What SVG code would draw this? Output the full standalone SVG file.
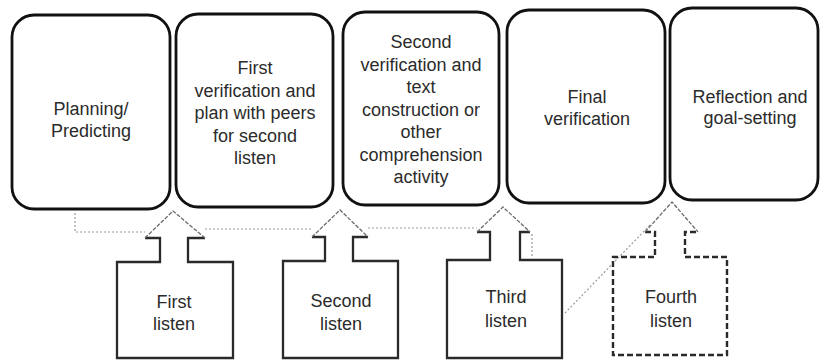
<svg xmlns="http://www.w3.org/2000/svg" width="820" height="360" viewBox="0 0 820 360">
  <style>
    .stage { fill: #ffffff; stroke: #111111; stroke-width: 2.8; }
    .lbl { font-family: "Liberation Sans", Arial, sans-serif; font-size: 18px; fill: #2b2b2b; text-anchor: middle; }
    .body { fill: none; stroke: #2a2a2a; stroke-width: 2.3; stroke-linejoin: miter; }
    .head { fill: none; stroke: #6a6a6a; stroke-width: 1.3; stroke-dasharray: 4 1.5; }
    .dashbody { fill: none; stroke: #2a2a2a; stroke-width: 2.4; stroke-dasharray: 6 3; }
    .faint { fill: none; stroke: #9a9a9a; stroke-width: 1.2; stroke-dasharray: 2 2; }
  </style>

  <rect width="820" height="360" fill="#ffffff"/>

  <!-- faint dotted guide lines -->
  <g id="connectors">
    <polyline class="faint" points="75,213 75,232 145,232"/>
    <line class="faint" x1="205" y1="229" x2="312" y2="229"/>
    <line class="faint" x1="368" y1="228" x2="477" y2="228"/>
    <line class="faint" x1="532" y1="234" x2="532" y2="258"/>
    <line class="faint" x1="565" y1="313" x2="650" y2="225"/>
  </g>

  <!-- stage boxes -->
  <g id="planning">
    <rect class="stage" x="12" y="15" width="158" height="194" rx="22"/>
    <text class="lbl" x="91" y="115">Planning/</text>
    <text class="lbl" x="91" y="137">Predicting</text>
  </g>

  <g id="first-verification">
    <rect class="stage" x="176" y="14" width="157" height="193" rx="22"/>
    <text class="lbl" x="255" y="74">First</text>
    <text class="lbl" x="255" y="96.5">verification and</text>
    <text class="lbl" x="255" y="119">plan with peers</text>
    <text class="lbl" x="255" y="141.5">for second</text>
    <text class="lbl" x="255" y="164">listen</text>
  </g>

  <g id="second-verification">
    <rect class="stage" x="343" y="12" width="156" height="193" rx="22"/>
    <text class="lbl" x="421" y="48">Second</text>
    <text class="lbl" x="421" y="70.5">verification and</text>
    <text class="lbl" x="421" y="93">text</text>
    <text class="lbl" x="421" y="115.5">construction or</text>
    <text class="lbl" x="421" y="138">other</text>
    <text class="lbl" x="421" y="160.5">comprehension</text>
    <text class="lbl" x="421" y="183">activity</text>
  </g>

  <g id="final-verification">
    <rect class="stage" x="507" y="10" width="158" height="193" rx="22"/>
    <text class="lbl" x="587" y="103">Final</text>
    <text class="lbl" x="587" y="125">verification</text>
  </g>

  <g id="reflection">
    <rect class="stage" x="670" y="8" width="148" height="192" rx="22"/>
    <text class="lbl" x="750" y="103">Reflection and</text>
    <text class="lbl" x="750" y="124">goal-setting</text>
  </g>

  <!-- listening arrows -->
  <g id="first-listen">
    <path class="body" d="M145,238 H160 V262 H117 V358 H233 V262 H188 V238 H205"/>
    <polyline class="head" points="145,238 173,211 205,238"/>
    <text class="lbl" x="174" y="308">First</text>
    <text class="lbl" x="174" y="330">listen</text>
  </g>

  <g id="second-listen">
    <path class="body" d="M312,237 H325 V261 H283 V358 H398 V261 H353 V237 H368"/>
    <polyline class="head" points="312,237 340,210 368,237"/>
    <text class="lbl" x="341" y="307">Second</text>
    <text class="lbl" x="341" y="330">listen</text>
  </g>

  <g id="third-listen">
    <path class="body" d="M477,232 H490 V260 H447 V358 H562 V260 H520 V232 H530"/>
    <polyline class="head" points="477,232 503,207 530,232"/>
    <text class="lbl" x="506" y="303">Third</text>
    <text class="lbl" x="506" y="327">listen</text>
  </g>

  <g id="fourth-listen">
    <path class="dashbody" d="M645,232 H655 V257 H613 V355 H727 V257 H685 V232 H698"/>
    <polyline class="head" points="645,232 672,202 698,232"/>
    <text class="lbl" x="671" y="303">Fourth</text>
    <text class="lbl" x="671" y="327">listen</text>
  </g>
</svg>
